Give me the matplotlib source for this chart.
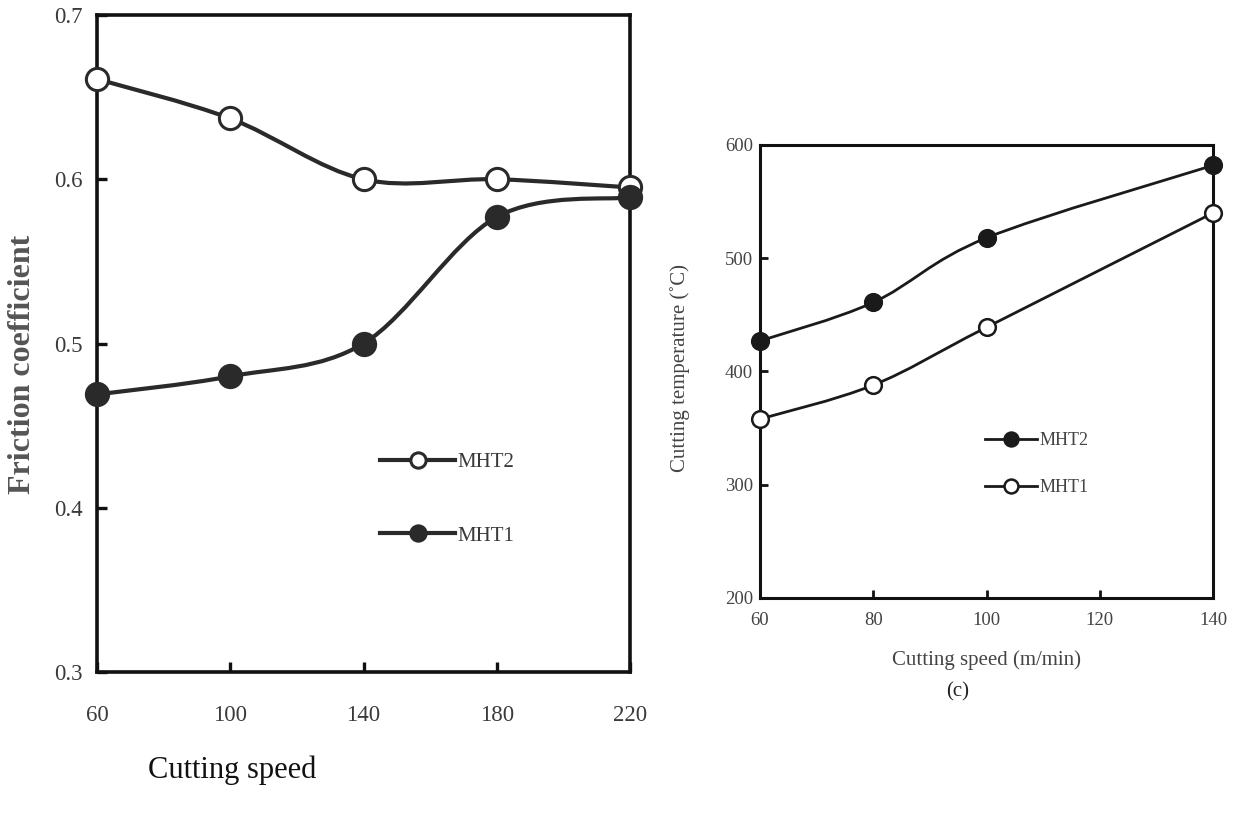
import numpy as np
import matplotlib
matplotlib.use("Agg")
import matplotlib.pyplot as plt
from matplotlib.path import Path
from matplotlib.patches import PathPatch
from matplotlib.lines import Line2D

# ---------------- data ----------------
left_speed = [60, 100, 140, 180, 220]
left_mht2 = [0.661, 0.637, 0.600, 0.600, 0.595]
left_mht1 = [0.469, 0.480, 0.500, 0.577, 0.589]
left_xticks = [60, 100, 140, 180, 220]
left_yticks = [0.3, 0.4, 0.5, 0.6, 0.7]

right_speed = [60, 80, 100, 140]
right_mht2 = [427, 461, 518, 582]
right_mht1 = [358, 388, 439, 540]
right_xticks = [60, 80, 100, 120, 140]
right_yticks = [200, 300, 400, 500, 600]

SERIF = ["Liberation Serif", "DejaVu Serif"]
plt.rcParams["font.family"] = SERIF


def smooth_path(x, y):
    """Catmull-Rom style Bezier path through the data points (Excel-like smoothing)."""
    pts = np.column_stack([x, y]).astype(float)
    n = len(pts)
    verts = [pts[0]]
    codes = [Path.MOVETO]
    for i in range(n - 1):
        p0 = pts[i - 1] if i > 0 else pts[i]
        p1 = pts[i]
        p2 = pts[i + 1]
        p3 = pts[i + 2] if i + 2 < n else pts[i + 1]
        c1 = p1 + (p2 - p0) / 6.0
        c2 = p2 - (p3 - p1) / 6.0
        verts += [c1, c2, p2]
        codes += [Path.CURVE4] * 3
    return Path(verts, codes)


def draw_series(ax, x, y, filled, lw, ms, mew, color):
    ax.add_patch(PathPatch(smooth_path(x, y), fill=False, lw=lw, ec=color,
                           zorder=3, clip_on=False))
    ax.plot(x, y, linestyle="none", marker="o", ms=ms, mew=mew,
            mec=color, mfc=color if filled else "white", zorder=4, clip_on=False)


fig = plt.figure(figsize=(12.37, 8.19), dpi=100)

# ---------------- left chart ----------------
axL = fig.add_axes([97 / 1237, 1 - 672 / 819, (630 - 97) / 1237, (672 - 15) / 819])
lc = "#2a2a2a"
draw_series(axL, left_speed, left_mht2, False, 3.0, 16, 2.2, lc)
draw_series(axL, left_speed, left_mht1, True, 3.0, 16, 2.2, lc)
axL.set_xlim(60, 220)
axL.set_ylim(0.3, 0.7)
axL.set_xticks(left_xticks)
axL.set_yticks(left_yticks)
axL.set_xticklabels([str(v) for v in left_xticks])
axL.set_yticklabels([f"{v:.1f}" for v in left_yticks])
for s in axL.spines.values():
    s.set_linewidth(2.6)
    s.set_color("#111111")
axL.tick_params(direction="in", length=7, width=2.4, color="#111111",
                labelsize=16.5, labelcolor="#3a3a3a")
axL.tick_params(axis="x", pad=24)
axL.tick_params(axis="y", pad=10)

hL = [Line2D([], [], color=lc, lw=3.0, marker="o", ms=11, mew=2.2, mec=lc, mfc="white"),
      Line2D([], [], color=lc, lw=3.0, marker="o", ms=11, mew=2.2, mec=lc, mfc=lc)]
axL.legend(hL, ["MHT2", "MHT1"], loc="center left",
           bbox_to_anchor=(370 / 1237, 1 - 499 / 819), bbox_transform=fig.transFigure,
           frameon=False, fontsize=15, handlelength=3.6, handletextpad=0.1,
           labelspacing=2.6, borderpad=0, labelcolor="#3a3a3a")

fig.text(23 / 1237, 1 - 364 / 819, "Friction coefficient", rotation=90,
         ha="center", va="center", fontsize=23, fontweight="bold", color="#555555")
fig.text(148 / 1237, 1 - 770 / 819, "Cutting speed", ha="left", va="center",
         fontsize=22, color="#111111")

# ---------------- right chart ----------------
axR = fig.add_axes([760 / 1237, 1 - 598 / 819, (1213 - 760) / 1237, (598 - 145) / 819])
rc = "#1a1a1a"
draw_series(axR, right_speed, right_mht2, True, 2.0, 12, 1.8, rc)
draw_series(axR, right_speed, right_mht1, False, 2.0, 12, 1.8, rc)
axR.set_xlim(60, 140)
axR.set_ylim(200, 600)
axR.set_xticks(right_xticks)
axR.set_yticks(right_yticks)
for s in axR.spines.values():
    s.set_linewidth(2.2)
    s.set_color("#111111")
axR.tick_params(direction="in", length=6, width=2.0, color="#111111",
                labelsize=13.5, labelcolor="#444444")
axR.tick_params(axis="x", pad=10)
axR.tick_params(axis="y", pad=5)
axR.set_xlabel("Cutting speed (m/min)", fontsize=15, color="#444444")
axR.set_ylabel("Cutting temperature (\u02daC)", fontsize=15, color="#444444")
axR.xaxis.set_label_coords(987 / 1237, 1 - 650 / 819, transform=fig.transFigure)
axR.yaxis.set_label_coords(690 / 1237, 1 - 368 / 819, transform=fig.transFigure)

hR = [Line2D([], [], color=rc, lw=2.0, marker="o", ms=10, mew=1.8, mec=rc, mfc=rc),
      Line2D([], [], color=rc, lw=2.0, marker="o", ms=10, mew=1.8, mec=rc, mfc="white")]
axR.legend(hR, ["MHT2", "MHT1"], loc="center left",
           bbox_to_anchor=(976 / 1237, 1 - 464 / 819), bbox_transform=fig.transFigure,
           frameon=False, fontsize=13, handlelength=2.9, handletextpad=0.1,
           labelspacing=1.65, borderpad=0, labelcolor="#444444")

fig.text(958 / 1237, 1 - 692 / 819, "(c)", ha="center", va="center",
         fontsize=15, color="#222222")

fig.savefig("out.png", dpi=100)
